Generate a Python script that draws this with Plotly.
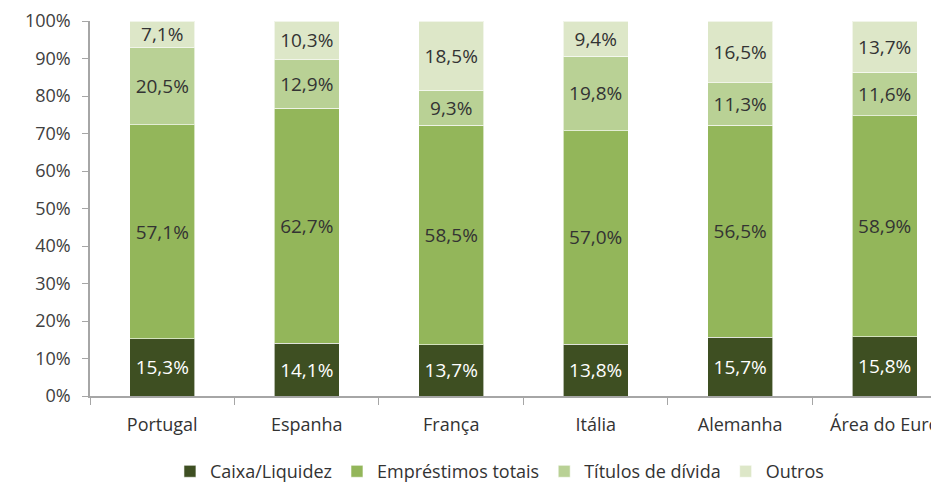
import plotly.graph_objects as go

categories = ["Portugal", "Espanha", "França", "Itália", "Alemanha", "Área do Euro"]
caixa = [15.3, 14.1, 13.7, 13.8, 15.7, 15.8]
emprestimos = [57.1, 62.7, 58.5, 57.0, 56.5, 58.9]
titulos = [20.5, 12.9, 9.3, 19.8, 11.3, 11.6]
outros = [7.1, 10.3, 18.5, 9.4, 16.5, 13.7]

series = [
    ("Caixa/Liquidez", caixa, "#3E4F22", "white"),
    ("Empréstimos totais", emprestimos, "#93B65A", "#333333"),
    ("Títulos de dívida", titulos, "#B9D195", "#333333"),
    ("Outros", outros, "#DDE7C8", "#333333"),
]

fig = go.Figure()
for name, vals, color, tcol in series:
    fig.add_trace(go.Bar(
        x=categories, y=vals, name=name,
        marker=dict(color=color, line=dict(color="rgba(255,255,255,0.6)", width=1)),
        width=0.45,
        texttemplate="%{y:.1f}%",
        textposition="inside",
        insidetextanchor="middle",
        textangle=0,
        constraintext="none",
        textfont=dict(color=tcol, size=19, family="Open Sans"),
    ))

fig.update_layout(
    barmode="stack",
    width=931, height=474,
    margin=dict(l=82, r=0, t=13, b=86),
    plot_bgcolor="white", paper_bgcolor="white",
    separators=",.",
    font=dict(family="Open Sans", size=16, color="#404040"),
    showlegend=True,
    legend=dict(orientation="h", x=0.484, xanchor="center",
                yref="container", y=0.022, yanchor="middle",
                font=dict(size=18, color="#333333"), traceorder="normal"),
    bargap=0.55,
)
fig.update_xaxes(
    range=[-0.5, 5.355],
    showline=True, linecolor="#A6A6A6", linewidth=1.5,
    ticks="outside", tickson="boundaries", ticklen=7, tickcolor="#A6A6A6",
    tickfont=dict(size=18, color="#333333"),
    ticklabelstandoff=12,
    showgrid=False,
)
fig.update_yaxes(
    range=[0, 100], dtick=10, ticksuffix="%",
    showline=True, linecolor="#A6A6A6", linewidth=1.5,
    ticks="outside", ticklen=6, tickcolor="#A6A6A6",
    tickfont=dict(size=18, color="#404040"),
    ticklabelstandoff=8,
    showgrid=False, zeroline=False,
)

fig.write_html("out.html")
